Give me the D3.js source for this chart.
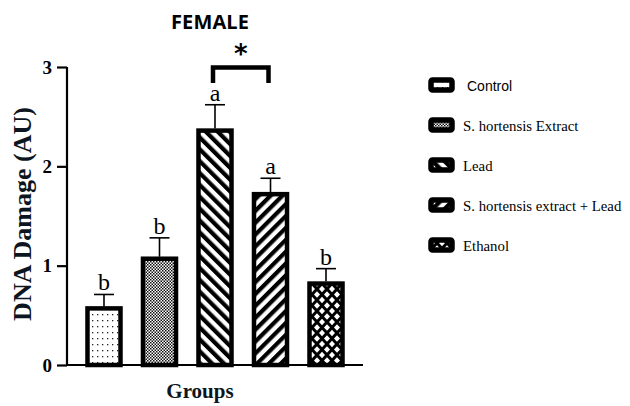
<!DOCTYPE html>
<html>
<head>
<meta charset="utf-8">
<script src="https://cdn.jsdelivr.net/npm/d3@7"></script>
<style>
  body { margin: 0; background: #fff; }
  svg { display: block; }
</style>
</head>
<body>
<div id="chart"></div>
<script>
// groups and values
const groups = ['Control', 'S. hortensis Extract', 'Lead', 'S. hortensis extract + Lead', 'Ethanol'];
const means = [0.59, 1.09, 2.38, 1.74, 0.84];
const errors = [0.12, 0.19, 0.24, 0.14, 0.13];
const letters = ['b', 'b', 'a', 'a', 'b'];
const yTicks = [0, 1, 2, 3];
const patternIds = ['pDots', 'pCheck', 'pBack', 'pFwd', 'pDiamond'];

const width = 630;
const height = 406;

const svg = d3.select('#chart')
  .append('svg')
  .attr('width', width)
  .attr('height', height);

const defs = svg.append('defs');

// sparse dots (control)
const dots = defs.append('pattern').attr('id', 'pDots').attr('patternUnits', 'userSpaceOnUse')
  .attr('width', 5).attr('height', 6);
dots.append('rect').attr('width', 5).attr('height', 6).attr('fill', '#fff');
dots.append('rect').attr('x', 2).attr('y', 2).attr('width', 1.3).attr('height', 1.3).attr('fill', '#222');

// fine checker (extract)
const check = defs.append('pattern').attr('id', 'pCheck').attr('patternUnits', 'userSpaceOnUse')
  .attr('width', 3).attr('height', 3);
check.append('rect').attr('width', 3).attr('height', 3).attr('fill', '#fff');
check.append('rect').attr('width', 1.5).attr('height', 1.5).attr('fill', '#111');
check.append('rect').attr('x', 1.5).attr('y', 1.5).attr('width', 1.5).attr('height', 1.5).attr('fill', '#111');

// stripes
function stripes(id, angle) {
  const p = defs.append('pattern').attr('id', id).attr('patternUnits', 'userSpaceOnUse')
    .attr('width', 8.4).attr('height', 8.4)
    .attr('patternTransform', `rotate(${angle})`);
  p.append('rect').attr('width', 8.4).attr('height', 8.4).attr('fill', '#fff');
  p.append('rect').attr('width', 4.2).attr('height', 8.4).attr('fill', '#000');
}
stripes('pBack', -45);
stripes('pFwd', 45);

// white diamonds on black (ethanol)
const dia = defs.append('pattern').attr('id', 'pDiamond').attr('patternUnits', 'userSpaceOnUse')
  .attr('width', 10).attr('height', 11).attr('x', 2).attr('y', 3);
dia.append('rect').attr('width', 10).attr('height', 11).attr('fill', '#000');
[[0, 0], [10, 0], [0, 11], [10, 11], [5, 5.5]].forEach(([cx, cy]) => {
  dia.append('path')
    .attr('d', `M${cx},${cy - 3.2}L${cx + 3},${cy}L${cx},${cy + 3.2}L${cx - 3},${cy}Z`)
    .attr('fill', '#fff');
});

// scales
const x = d3.scaleBand()
  .domain(groups)
  .range([67, 363])
  .paddingInner(0.405)
  .paddingOuter(0.369);

const y = d3.scaleLinear()
  .domain([0, 3])
  .range([365, 67]);

// bars
svg.selectAll('.bar')
  .data(groups)
  .enter()
  .append('rect')
  .attr('class', 'bar')
  .attr('x', d => x(d))
  .attr('y', (d, i) => y(means[i]) + 2)
  .attr('width', x.bandwidth())
  .attr('height', (d, i) => y(0) - y(means[i]) - 2)
  .attr('fill', (d, i) => `url(#${patternIds[i]})`)
  .attr('stroke', '#000')
  .attr('stroke-width', 4.5);

// error bars
const eb = svg.selectAll('.err')
  .data(groups)
  .enter()
  .append('g')
  .attr('class', 'err')
  .attr('stroke', '#000')
  .attr('stroke-width', 1.6);
eb.append('line')
  .attr('x1', d => x(d) + x.bandwidth() / 2)
  .attr('x2', d => x(d) + x.bandwidth() / 2)
  .attr('y1', (d, i) => y(means[i]))
  .attr('y2', (d, i) => y(means[i] + errors[i]));
eb.append('line')
  .attr('x1', d => x(d) + x.bandwidth() / 2 - 10)
  .attr('x2', d => x(d) + x.bandwidth() / 2 + 10)
  .attr('y1', (d, i) => y(means[i] + errors[i]))
  .attr('y2', (d, i) => y(means[i] + errors[i]));

// significance letters
svg.selectAll('.letter')
  .data(groups)
  .enter()
  .append('text')
  .attr('class', 'letter')
  .attr('x', d => x(d) + x.bandwidth() / 2)
  .attr('y', (d, i) => y(means[i] + errors[i]) - 4)
  .attr('text-anchor', 'middle')
  .style('font-family', '"Liberation Serif", "Times New Roman", serif')
  .style('font-size', '24px')
  .text((d, i) => letters[i]);

// axes
const yAxis = svg.append('g')
  .attr('transform', 'translate(67,0)')
  .call(d3.axisLeft(y).tickValues(yTicks).tickFormat(d3.format('d')).tickSize(10).tickPadding(5));
yAxis.select('.domain').attr('stroke-width', 2.2).attr('d', `M0,${y(3)}V${y(0)}`);
yAxis.selectAll('.tick line').attr('stroke-width', 2.2);
yAxis.selectAll('.tick text')
  .style('font-family', '"Liberation Serif", "Times New Roman", serif')
  .style('font-size', '19px')
  .style('font-weight', 'bold')
  .attr('fill', '#000');

svg.append('line')
  .attr('x1', 66).attr('x2', 363)
  .attr('y1', y(0)).attr('y2', y(0))
  .attr('stroke', '#000')
  .attr('stroke-width', 2.2);

// axis titles
svg.append('text')
  .attr('transform', `translate(31,${(y(0) + y(3)) / 2 - 2}) rotate(-90)`)
  .attr('text-anchor', 'middle')
  .style('font-family', '"Liberation Serif", "Times New Roman", serif')
  .style('font-size', '26px')
  .style('font-weight', 'bold')
  .attr('fill', '#0d1620')
  .text('DNA Damage (AU)');

svg.append('text')
  .attr('x', 200)
  .attr('y', 398)
  .attr('text-anchor', 'middle')
  .style('font-family', '"Liberation Serif", "Times New Roman", serif')
  .style('font-size', '21px')
  .style('font-weight', 'bold')
  .attr('fill', '#0d1620')
  .text('Groups');

// title
svg.append('text')
  .attr('x', 210)
  .attr('y', 29)
  .attr('text-anchor', 'middle')
  .style('font-family', '"Open Sans", sans-serif')
  .style('font-size', '20px')
  .style('font-weight', 'bold')
  .attr('textLength', 78)
  .text('FEMALE');

// significance bracket between Lead and extract + Lead
const bx1 = x(groups[2]) + x.bandwidth() / 2 - 2;
const bx2 = x(groups[3]) + x.bandwidth() / 2 - 2;
svg.append('path')
  .attr('d', `M${bx1},83V67.5H${bx2}V83`)
  .attr('fill', 'none')
  .attr('stroke', '#000')
  .attr('stroke-width', 4.5);
svg.append('text')
  .attr('x', (bx1 + bx2) / 2)
  .attr('y', 63)
  .attr('text-anchor', 'middle')
  .style('font-family', '"DejaVu Sans", sans-serif')
  .style('font-size', '26px')
  .style('font-weight', 'bold')
  .text('*');

// legend
const legendY = d3.scaleLinear().domain([0, 4]).range([91, 251]);
const legend = svg.selectAll('.legend')
  .data(groups)
  .enter()
  .append('g')
  .attr('class', 'legend')
  .attr('transform', (d, i) => `translate(0,${legendY(i)})`);

legend.append('rect')
  .attr('x', 431)
  .attr('y', -11)
  .attr('width', 21)
  .attr('height', 10)
  .attr('rx', 1.5)
  .attr('fill', (d, i) => `url(#${patternIds[i]})`)
  .attr('stroke', '#000')
  .attr('stroke-width', 5.5);

legend.append('text')
  .attr('x', (d, i) => i === 0 ? 467 : 463)
  .attr('y', 0)
  .style('font-family', (d, i) => i === 0 ? '"Liberation Sans", Arial, sans-serif' : '"Liberation Serif", "Times New Roman", serif')
  .style('font-size', (d, i) => i === 0 ? '14px' : '14.8px')
  .text(d => d);
</script>
</body>
</html>
